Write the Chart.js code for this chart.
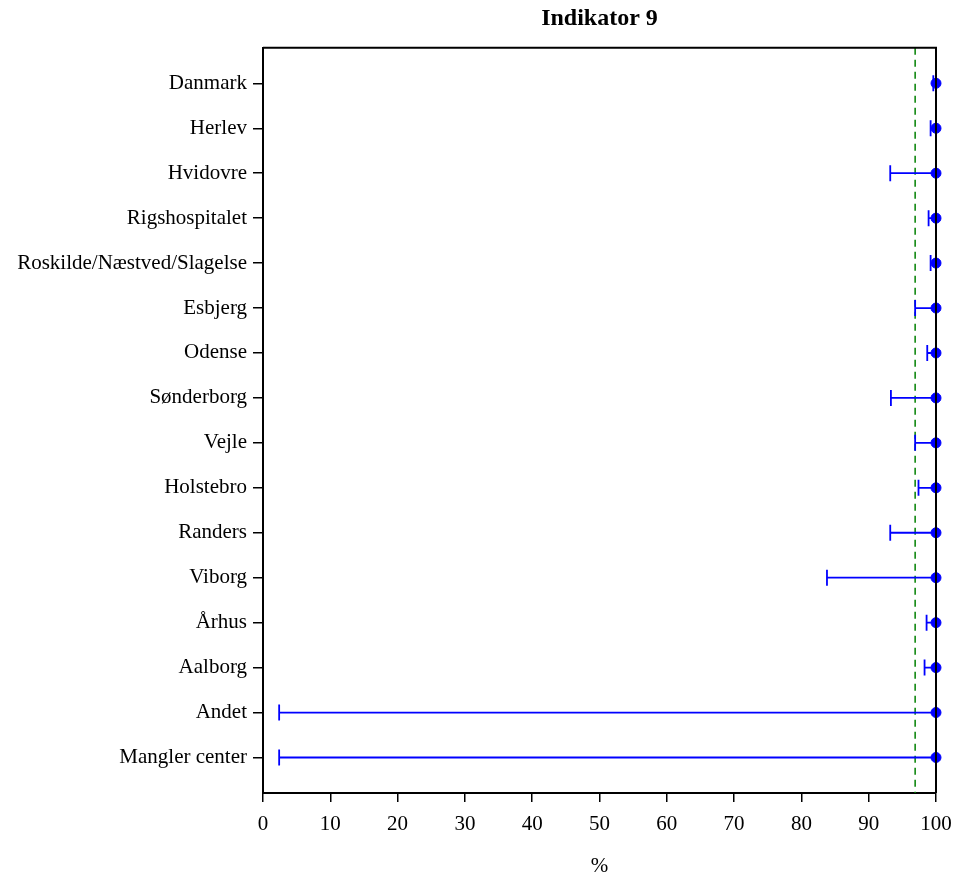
<!DOCTYPE html>
<html>
<head>
<meta charset="utf-8">
<script src="https://cdn.jsdelivr.net/npm/chart.js@4.4.1/dist/chart.umd.min.js"></script>
<style>
  html, body { margin: 0; padding: 0; background: #fff; }
  #wrap { width: 954px; height: 875px; }
</style>
</head>
<body>
<div id="wrap"><canvas id="graf"></canvas></div>
<script>
// data
const centre = ['Danmark', 'Herlev', 'Hvidovre', 'Rigshospitalet', 'Roskilde/Næstved/Slagelse',
  'Esbjerg', 'Odense', 'Sønderborg', 'Vejle', 'Holstebro', 'Randers', 'Viborg', 'Århus',
  'Aalborg', 'Andet', 'Mangler center'];
const andel = [100, 100, 100, 100, 100, 100, 100, 100, 100, 100, 100, 100, 100, 100, 100, 100];
const nedre = [99.6, 99.2, 93.2, 98.9, 99.2, 96.9, 98.7, 93.3, 96.9, 97.4, 93.2, 83.8, 98.6, 98.3, 2.4, 2.4];
const standard = 96.9;
const xTicks = [0, 10, 20, 30, 40, 50, 60, 70, 80, 90, 100];

const serif = "'Liberation Serif', 'Times New Roman', serif";
const yMin = -0.79, yMax = centre.length - 1 + 0.79;

// whiskers: line from lower limit to estimate, with cap at lower limit
const errorBars = {
  id: 'errorBars',
  afterDatasetsDraw(chart) {
    const { ctx, scales: { x, y } } = chart;
    ctx.save();
    ctx.strokeStyle = '#0000FF';
    ctx.lineWidth = 1.8;
    nedre.forEach((lo, i) => {
      const x1 = x.getPixelForValue(lo);
      const x2 = x.getPixelForValue(andel[i]);
      const yy = y.getPixelForValue(i);
      ctx.beginPath();
      ctx.moveTo(x1, yy);
      ctx.lineTo(x2, yy);
      ctx.moveTo(x1, yy - 8);
      ctx.lineTo(x1, yy + 8);
      ctx.stroke();
    });
    ctx.restore();
  }
};

// frame: top and right edges of the plot box
const frame = {
  id: 'frame',
  afterDraw(chart) {
    const { ctx, chartArea: a } = chart;
    ctx.save();
    ctx.strokeStyle = '#000';
    ctx.lineWidth = 2;
    ctx.beginPath();
    ctx.moveTo(a.left, a.top);
    ctx.lineTo(a.right, a.top);
    ctx.lineTo(a.right, a.bottom);
    ctx.stroke();
    ctx.restore();
  }
};

new Chart(document.getElementById('graf').getContext('2d'), {
  type: 'scatter',
  data: {
    datasets: [
      {
        type: 'line',
        label: 'Standard',
        data: [{ x: standard, y: yMin }, { x: standard, y: yMax }],
        borderColor: '#008000',
        borderWidth: 1.5,
        borderDash: [7, 5],
        pointRadius: 0,
        fill: false
      },
      {
        label: 'Andel',
        data: andel.map((v, i) => ({ x: v, y: i })),
        backgroundColor: '#0000FF',
        borderColor: '#0000FF',
        pointRadius: 5,
        clip: false
      }
    ]
  },
  options: {
    responsive: true,
    maintainAspectRatio: false,
    animation: false,
    layout: { padding: { top: 0, right: 18, bottom: 0, left: 0 } },
    scales: {
      x: {
        type: 'linear',
        min: 0,
        max: 100,
        afterBuildTicks: s => { s.ticks = xTicks.map(v => ({ value: v })); },
        afterFit: s => { s.height = 82; s.paddingLeft = 0; s.paddingRight = 0; },
        grid: { drawOnChartArea: false, drawTicks: true, tickLength: 9, color: '#000', lineWidth: 1.5 },
        border: { color: '#000', width: 2 },
        ticks: { color: '#000', padding: 10, font: { family: serif, size: 21 } },
        title: { display: true, text: '%', color: '#000', padding: { top: 0, bottom: 0 },
          font: { family: serif, size: 21, lineHeight: 0.8 } }
      },
      y: {
        type: 'linear',
        reverse: true,
        min: yMin,
        max: yMax,
        afterBuildTicks: s => { s.ticks = centre.map((c, i) => ({ value: i })); },
        afterFit: s => { s.width = 263; s.paddingTop = 0; s.paddingBottom = 0; },
        grid: { drawOnChartArea: false, drawTicks: true, tickLength: 10, color: '#000', lineWidth: 1.5 },
        border: { color: '#000', width: 2 },
        ticks: {
          color: '#000',
          padding: 6,
          autoSkip: false,
          font: { family: serif, size: 21 },
          callback: v => centre[v]
        }
      }
    },
    plugins: {
      legend: { display: false },
      tooltip: { enabled: false },
      title: {
        display: true,
        fullSize: false,
        text: 'Indikator 9',
        color: '#000',
        font: { family: serif, size: 24, weight: 'bold', lineHeight: 1.2 },
        padding: { top: 4, bottom: 15 }
      }
    }
  },
  plugins: [errorBars, frame]
});
</script>
</body>
</html>
